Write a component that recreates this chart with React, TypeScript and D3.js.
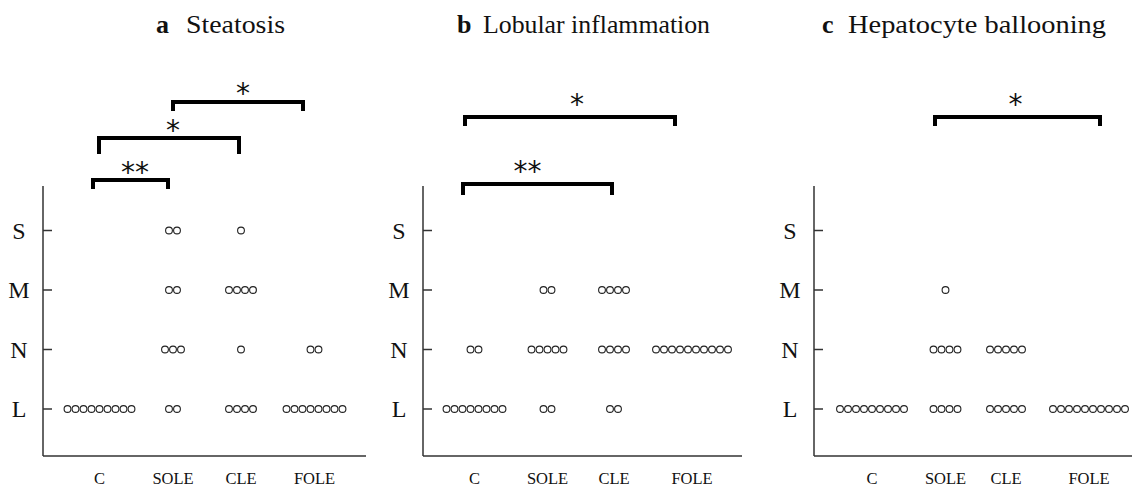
import React from "react";
import * as d3 from "d3";

// ---------- data ----------
const groups = ["C", "SOLE", "CLE", "FOLE"];
const levels = ["L", "N", "M", "S"];

// counts per group, in the order of levels (L, N, M, S)
const steatosisCounts = [
  [9, 0, 0, 0],
  [2, 3, 2, 2],
  [4, 1, 4, 1],
  [8, 2, 0, 0],
];
const lobularCounts = [
  [8, 2, 0, 0],
  [2, 5, 2, 0],
  [2, 4, 4, 0],
  [0, 10, 0, 0],
];
const ballooningCounts = [
  [9, 0, 0, 0],
  [4, 4, 1, 0],
  [5, 5, 0, 0],
  [10, 0, 0, 0],
];

// significance: [from, to, label]
const steatosisSig = [
  ["C", "SOLE", "**"],
  ["C", "CLE", "*"],
  ["SOLE", "FOLE", "*"],
];
const lobularSig = [
  ["C", "FOLE", "*"],
  ["C", "CLE", "**"],
];
const ballooningSig = [["SOLE", "FOLE", "*"]];

const panelLetters = ["a", "b", "c"];
const panelTitles = ["Steatosis", "Lobular inflammation", "Hepatocyte ballooning"];

// ---------- layout (positions / styles only) ----------
const W = 1132;
const H = 488;
const BASE_Y = 456;
const AXIS_TOP = 186;
const SPACING = 8;
const R = 3.4;

const PANEL_LAYOUT = [
  {
    axisX: 43, xEnd: 366, groupX: [99.5, 173, 241, 314.5], letterX: 156, titleX: 186, titleW: 99,
    brackets: [
      { bar: 180, leg: 189, dx1: -6.5, dx2: -5, sdx: 4.5, sy: 166 },
      { bar: 138, leg: 154, dx1: -0.5, dx2: -2, sdx: 4, sy: 124 },
      { bar: 102, leg: 111, dx1: 0, dx2: -11.5, sdx: 5, sy: 87 },
    ],
  },
  {
    axisX: 423, xEnd: 742, groupX: [474.5, 547.5, 614, 692], letterX: 457, titleX: 483, titleW: 227,
    brackets: [
      { bar: 117, leg: 126, dx1: -9.5, dx2: -17, sdx: 7, sy: 98 },
      { bar: 184, leg: 195, dx1: -11.5, dx2: -2, sdx: -10, sy: 165 },
    ],
  },
  {
    axisX: 814, xEnd: 1132, groupX: [872, 945.5, 1006, 1089], letterX: 822, titleX: 848, titleW: 258,
    brackets: [{ bar: 117, leg: 126, dx1: -10.5, dx2: 11, sdx: -2, sy: 98 }],
  },
];

const panelsData = [
  { counts: steatosisCounts, sig: steatosisSig },
  { counts: lobularCounts, sig: lobularSig },
  { counts: ballooningCounts, sig: ballooningSig },
];

const y = d3.scalePoint<string>().domain(levels).range([409, 230.5]);

const SERIF = "'Liberation Serif', 'Times New Roman', serif";
const STAR_FONT = "'DejaVu Sans', sans-serif";
const STAR_FS = 28;

function Panel({ idx }: { idx: number }) {
  const L = PANEL_LAYOUT[idx];
  const { counts, sig } = panelsData[idx];
  const x = d3.scaleOrdinal<string, number>().domain(groups).range(L.groupX);

  const dots: { cx: number; cy: number; key: string }[] = [];
  groups.forEach((g, gi) => {
    levels.forEach((lv, li) => {
      const n = counts[gi][li];
      for (let i = 0; i < n; i++) {
        dots.push({
          cx: x(g) + (i - (n - 1) / 2) * SPACING,
          cy: y(lv) as number,
          key: `${g}-${lv}-${i}`,
        });
      }
    });
  });

  return (
    <g>
      {/* title */}
      <text x={L.letterX} y={33} fontFamily={SERIF} fontSize={26} fontWeight="bold" fill="#111">
        {panelLetters[idx]}
      </text>
      <text
        x={L.titleX}
        y={33}
        fontFamily={SERIF}
        fontSize={26}
        fill="#111"
        textLength={L.titleW}
        lengthAdjust="spacingAndGlyphs"
      >
        {panelTitles[idx]}
      </text>

      {/* axes */}
      <line x1={L.axisX} x2={L.axisX} y1={AXIS_TOP} y2={BASE_Y} stroke="#333" strokeWidth={1.5} />
      <line x1={L.axisX} x2={L.xEnd} y1={BASE_Y} y2={BASE_Y} stroke="#333" strokeWidth={1.5} />
      {levels.map((lv) => (
        <g key={lv}>
          <line x1={L.axisX} x2={L.axisX + 9} y1={y(lv)} y2={y(lv)} stroke="#333" strokeWidth={1.5} />
          <text
            x={L.axisX - 24}
            y={(y(lv) as number) + 8}
            textAnchor="middle"
            fontFamily={SERIF}
            fontSize={24}
            fill="#111"
          >
            {lv}
          </text>
        </g>
      ))}
      {groups.map((g) => (
        <text key={g} x={x(g)} y={484} textAnchor="middle" fontFamily={SERIF} fontSize={16.5} fill="#111">
          {g}
        </text>
      ))}

      {/* dots */}
      {dots.map((d) => (
        <circle key={d.key} cx={d.cx} cy={d.cy} r={R} fill="white" stroke="#222" strokeWidth={1.1} />
      ))}

      {/* brackets */}
      {sig.map((s, si) => {
        const b = L.brackets[si];
        const x1 = x(s[0]) + b.dx1;
        const x2 = x(s[1]) + b.dx2;
        const p = d3.path();
        p.moveTo(x1, b.leg);
        p.lineTo(x1, b.bar);
        p.lineTo(x2, b.bar);
        p.lineTo(x2, b.leg);
        return (
          <g key={si}>
            <path d={p.toString()} fill="none" stroke="#000" strokeWidth={4} strokeLinejoin="miter" />
            <text
              x={(x1 + x2) / 2 + b.sdx}
              y={b.sy + STAR_FS * 0.56}
              textAnchor="middle"
              fontFamily={STAR_FONT}
              fontSize={STAR_FS}
              fill="#111"
            >
              {s[2]}
            </text>
          </g>
        );
      })}
    </g>
  );
}

export default function App() {
  return (
    <svg
      width={W}
      height={H}
      viewBox={`0 0 ${W} ${H}`}
      style={{ position: "absolute", left: 0, top: 0, background: "white" }}
    >
      <rect width={W} height={H} fill="white" />
      {[0, 1, 2].map((i) => (
        <Panel key={i} idx={i} />
      ))}
    </svg>
  );
}
